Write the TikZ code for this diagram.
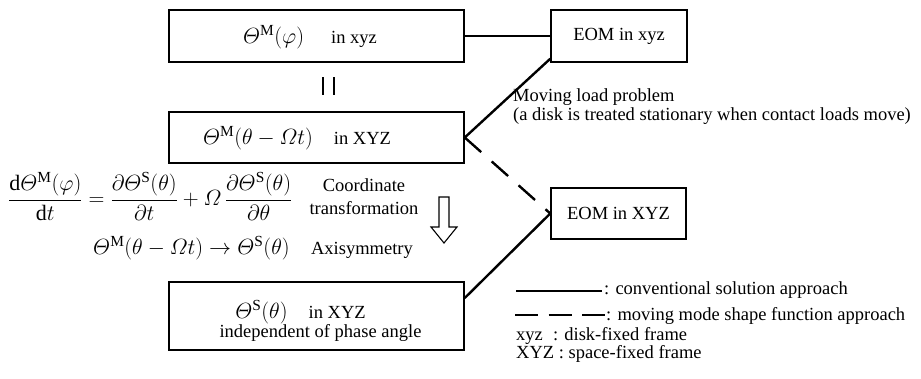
\RequirePackage{fix-cm}
\documentclass[tikz,border=0pt]{standalone}
\usepackage{amsmath}
\usepackage{fontspec}
\setmainfont{Liberation Serif}
\usetikzlibrary{calc}
\newcommand{\Th}{\varTheta}
\newcommand{\Om}{\varOmega}
\newcommand{\mf}{\fontsize{22}{24}\selectfont}
\begin{document}
\begin{tikzpicture}[x=1pt,y=-1pt,
  every node/.style={font=\fontsize{18.5}{22}\selectfont},
  box/.style={draw, line width=1.5pt, inner sep=0pt},
  conn/.style={line width=2.4pt},
  dconn/.style={line width=2.4pt, dash pattern=on 22pt off 14pt},
  ldash/.style={line width=2.4pt, dash pattern=on 23pt off 10.5pt},
  lbl/.style={inner sep=0pt}]
\useasboundingbox (0,0) rectangle (921,378);
% main boxes
\node[box, minimum width=295pt, minimum height=52pt] (b1) at (316.5,36) {};
\node[box, minimum width=295pt, minimum height=51pt] (b2) at (316.5,137.5) {};
\node[box, minimum width=295pt, minimum height=68pt] (b3) at (316.5,316) {};
\node[box, minimum width=136pt, minimum height=52pt] (e1) at (619,36) {EOM in xyz};
\node[box, minimum width=135pt, minimum height=51pt] (e2) at (618.5,213.5) {EOM in XYZ};
% box texts
\node[lbl] (b1t) at (310,37) {{\mf$\Th^{\mathrm{M}}(\varphi)$}\hspace{27pt}in xyz};
\node[lbl] (b2t) at (297,138) {{\mf$\Th^{\mathrm{M}}(\theta-\Om t)$}\hspace{21pt}in XYZ};
\node[lbl, anchor=base] (b3t) at (300.5,318) {{\mf$\Th^{\mathrm{S}}(\theta)$}\hspace{21pt}in XYZ};
\node[lbl, anchor=base] (b3u) at (320.5,337) {independent of phase angle};
% equality sign between boxes
\draw[line width=1.4pt] (323,77) -- (323,95);
\draw[line width=1.4pt] (334,77) -- (334,95);
% connectors
\draw[conn] (b1.east) -- (e1.west);
\draw[conn] (b2.east) -- ($(e1.south west)+(0,-4)$);
\draw[dconn] (b2.east) -- (e2.west);
\draw[conn] ($(b3.east)+(0,-18)$) -- (e2.west);
% moving load label
\node[lbl, anchor=north west, align=left, font=\fontsize{18.5}{19}\selectfont] (ml) at (513,88) {Moving load problem\\(a disk is treated stationary when contact loads move)};
% equations
\node[lbl, anchor=base west, font=\mf] (eq1) at (8,205.5) {$\displaystyle \frac{\mathrm{d}\Th^{\mathrm{M}}(\varphi)}{\mathrm{d}t}=\frac{\partial\Th^{\mathrm{S}}(\theta)}{\partial t}+\Om\,\frac{\partial\Th^{\mathrm{S}}(\theta)}{\partial\theta}$};
\node[lbl, align=center, font=\fontsize{18.5}{23}\selectfont] (ct) at (364,197) {Coordinate\\transformation};
\node[lbl, anchor=base west, font=\mf] (eq2) at (93,254) {$\Th^{\mathrm{M}}(\theta-\Om t)\rightarrow\Th^{\mathrm{S}}(\theta)$};
\node[lbl, anchor=base] (ax) at (362,254) {Axisymmetry};
% hollow arrow
\draw[line width=1.1pt] (439,197) -- (449,197) -- (449,227) -- (457,227) -- (444,243) -- (431,227) -- (439,227) -- cycle;
% legend
\coordinate (l1a) at (516,291);
\coordinate (l1b) at (602,291);
\coordinate (l2a) at (515,315);
\coordinate (l2b) at (605,315);
\draw[conn] (l1a) -- (l1b);
\draw[ldash] (l2a) -- (l2b);
\node[lbl, anchor=base west] (l1t) at (604,294) {: conventional solution approach};
\node[lbl, anchor=base west] (l2t) at (606,320) {: moving mode shape function approach};
\node[lbl, anchor=base west] (l3t) at (516,340) {xyz\hspace{0.55em}: disk-fixed frame};
\node[lbl, anchor=base west] (l4t) at (516,358) {XYZ : space-fixed frame};
\end{tikzpicture}
\end{document}
